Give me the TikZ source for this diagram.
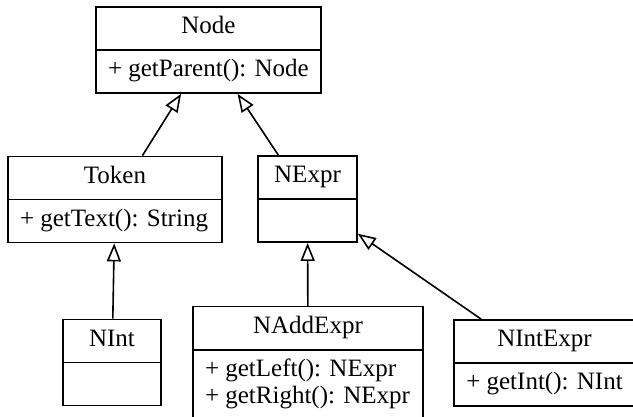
\documentclass[tikz,border=0pt]{standalone}
\usepackage{fontspec}
\setmainfont{Liberation Serif}
\usetikzlibrary{shapes.multipart, arrows.meta}

\begin{document}
\begin{tikzpicture}[x=1pt, y=-1pt,
        cls/.style={draw, line width=1.6pt, rectangle split, rectangle split parts=2,
            rectangle split part align={center,left}, align=left,
            inner xsep=12pt, inner ysep=7.5pt, font=\fontsize{25}{26.5}\selectfont},
        ext/.style={line width=1.6pt, -{Triangle[open, length=18pt, width=14pt]}}]
        \useasboundingbox (0,0) rectangle (633,416);
        \node[cls, minimum width=225pt] (node) at (208.5,50) {\strut Node \nodepart{two}\strut + getParent(): Node};
        \node[cls, minimum width=214pt] (token) at (115,199.5) {\strut Token \nodepart{two}\strut + getText(): String};
        \node[cls, minimum width=99pt] (nexpr) at (307.5,199) {\strut NExpr \nodepart{two}\strut};
        \node[cls, minimum width=98pt] (nint) at (112,362.5) {\strut NInt \nodepart{two}\strut};
        \node[cls, minimum width=230pt] (naddexpr) at (308,363) {\strut NAddExpr \nodepart{two}\strut + getLeft(): NExpr\\\strut + getRight(): NExpr};
        \node[cls, minimum width=179pt] (nintexpr) at (544.5,363) {\strut NIntExpr \nodepart{two}\strut + getInt(): NInt};
        \draw[ext] (token) -- (node);
        \draw[ext] (nexpr) -- (node);
        \draw[ext] (nint) -- (token);
        \draw[ext] (naddexpr) -- (nexpr);
        \draw[ext] (nintexpr) -- (nexpr);
\end{tikzpicture}
\end{document}
